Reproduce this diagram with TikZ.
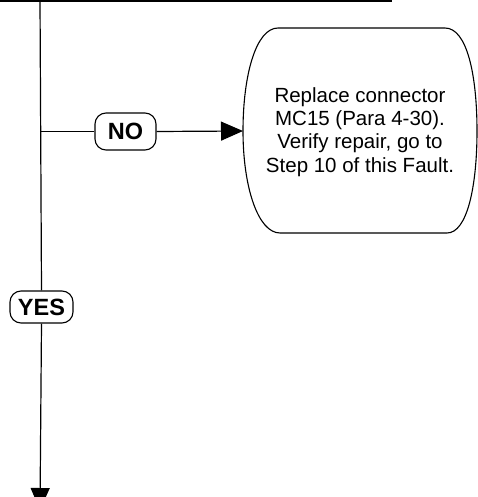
\documentclass[tikz,border=0pt]{standalone}
\usepackage{fontspec}
\setmainfont{Liberation Sans}
\usetikzlibrary{arrows.meta}
\tikzset{
  flow/.style={line width=1.2pt, draw=black},
  answer/.style={draw=black, line width=1.1pt, rounded corners=11pt, inner sep=0pt,
    font=\fontsize{23.5}{25}\selectfont\bfseries},
  tip/.style={-{Triangle[length=22pt,width=19pt]}},
  steptext/.style={align=center, inner sep=0pt, font=\fontsize{20.5}{23.3}\selectfont},
  termshape/.style={draw=black, line width=1.1pt}
}
\begin{document}
\begin{tikzpicture}[x=1pt,y=-1pt]
\useasboundingbox (0,0) rectangle (478,497);
\clip (0,0) rectangle (478,497);
% top line
\coordinate (tl) at (0,1);
\coordinate (tr) at (392,1);
\draw[flow] (tl) -- (tr);
% terminal shape
\draw[termshape] (278,28) -- (445,28) .. controls (467,28) and (477,75) .. (477,131)
  .. controls (477,187) and (467,233) .. (447,233) -- (280,233)
  .. controls (258,233) and (243,187) .. (243,131)
  .. controls (243,75) and (256,28) .. (278,28) -- cycle;
\coordinate (termin) at (243,131);
\node[steptext] (fault) at (360,132) {Replace connector\\MC15 (Para 4-30).\\Verify repair, go to\\Step 10 of this Fault.};
% labels
\node[answer, minimum width=61pt, minimum height=37pt] (no) at (125.5,131.5) {NO};
\node[answer, minimum width=63pt, minimum height=32pt] (yes) at (41.5,307) {YES};
% connectors
\coordinate (top) at (40,0);
\coordinate (junc) at (40,131.5);
\coordinate (bot) at (40,510);
\draw[flow] (top) -- (yes.north);
\draw[flow] (junc) -- (no.west);
\draw[flow, tip] (no.east) -- (termin);
\draw[flow, tip] (yes.south) -- (bot);
\end{tikzpicture}
\end{document}
